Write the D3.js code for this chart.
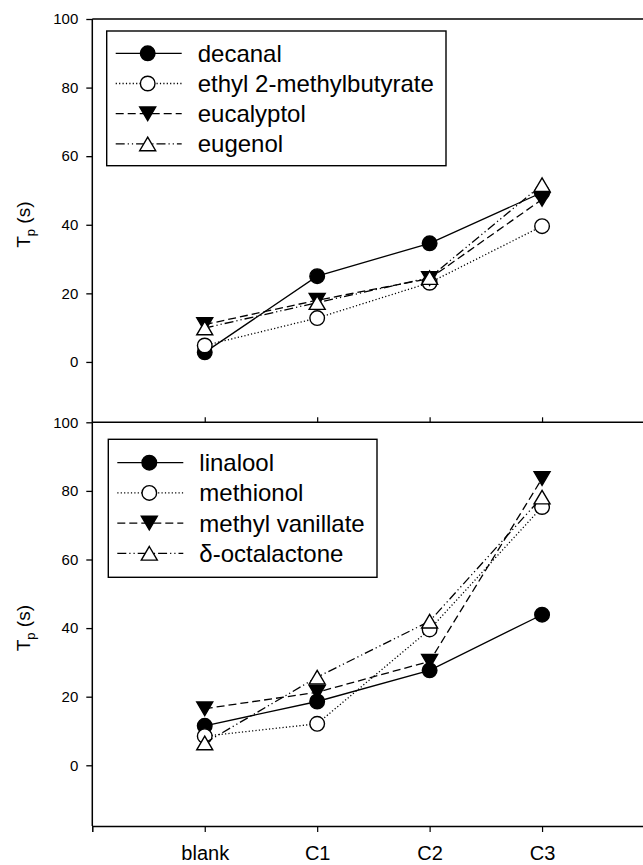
<!DOCTYPE html>
<html>
<head>
<meta charset="utf-8">
<script src="https://cdn.jsdelivr.net/npm/d3@7"></script>
<style>
  html, body { margin: 0; padding: 0; background: #fff; }
  svg { display: block; }
  text { font-family: "Liberation Sans", Arial, sans-serif; fill: #000; }
</style>
</head>
<body>
<svg id="chart" width="643" height="865"></svg>
<script>
// Categories along x
const categories = ["blank", "C1", "C2", "C3"];
const yTicks = [0, 20, 40, 60, 80, 100];

// Upper panel series (Tp in seconds)
const decanal = [2.8, 25.0, 34.6, 49.4];
const ethyl2Methylbutyrate = [4.8, 12.8, 23.1, 39.6];
const eucalyptol = [10.9, 18.0, 24.3, 47.4];
const eugenol = [9.9, 17.3, 24.6, 51.7];

// Lower panel series
const linalool = [11.5, 18.6, 27.7, 43.9];
const methionol = [8.5, 12.1, 39.6, 75.3];
const methylVanillate = [16.5, 21.3, 30.3, 83.6];
const octalactone = [6.5, 25.7, 42.0, 78.2];

const topNames = ["decanal", "ethyl 2-methylbutyrate", "eucalyptol", "eugenol"];
const bottomNames = ["linalool", "methionol", "methyl vanillate", "\u03B4-octalactone"];

// Line / symbol styles shared by both panels (by series position)
const styles = [
  { dash: null,            symbol: "circle",  fill: "#000" },
  { dash: "1.2,2.2",       symbol: "circle",  fill: "#fff" },
  { dash: "8,4",           symbol: "tridown", fill: "#000" },
  { dash: "9,3,1.2,3,1.2,3", symbol: "triup", fill: "#fff" }
];

const svg = d3.select("#chart");

const x = d3.scaleLinear().domain([0, 5]).range([92.3, 654.5]);

const panels = [
  { names: topNames, series: [decanal, ethyl2Methylbutyrate, eucalyptol, eugenol],
    y: d3.scaleLinear().domain([-17.6, 100]).range([422.3, 19]),
    legend: { x: 106.7, y: 31, w: 339.3, h: 134.7, rowY: 53.3 } },
  { names: bottomNames, series: [linalool, methionol, methylVanillate, octalactone],
    y: d3.scaleLinear().domain([-17.7, 100]).range([826, 422.3]),
    legend: { x: 108.3, y: 439.3, w: 268.7, h: 138, rowY: 462.7 } }
];

function drawSymbol(g, kind, fill, cx, cy) {
  if (kind === "circle") {
    g.append("circle").attr("cx", cx).attr("cy", cy).attr("r", 7.3)
      .attr("fill", fill).attr("stroke", "#000").attr("stroke-width", 1.4);
  } else {
    const hw = 8, hh = 6.8;
    const pts = kind === "triup"
      ? [[cx, cy - hh], [cx + hw, cy + hh], [cx - hw, cy + hh]]
      : [[cx - hw, cy - hh], [cx + hw, cy - hh], [cx, cy + hh]];
    g.append("path").attr("d", d3.line()(pts) + "Z")
      .attr("fill", fill).attr("stroke", "#000").attr("stroke-width", 1.4)
      .attr("stroke-linejoin", "miter");
  }
}

panels.forEach((p, pi) => {
  const g = svg.append("g");
  const y = p.y;
  const [y0, y1] = y.range();

  // Frame: left axis and top edge
  g.append("line").attr("x1", x(0)).attr("x2", x(0)).attr("y1", y1).attr("y2", y0)
    .attr("stroke", "#000").attr("stroke-width", 1.5);
  g.append("line").attr("x1", x(0)).attr("x2", x(5)).attr("y1", y1).attr("y2", y1)
    .attr("stroke", "#000").attr("stroke-width", 1.5);

  // Y axis
  const yAxis = d3.axisLeft(y).tickValues(yTicks).tickSize(6).tickPadding(8);
  const ya = g.append("g").attr("transform", `translate(${x(0)},0)`).call(yAxis);
  ya.select(".domain").remove();
  ya.selectAll(".tick line").attr("stroke", "#000").attr("stroke-width", 1.3);
  ya.selectAll(".tick text").style("font-size", "15px")
    .style("font-family", "'Liberation Sans', Arial, sans-serif");

  // Y title
  const cy = (y0 + y1) / 2;
  const t = g.append("text").attr("transform", `translate(30,${cy + 4}) rotate(-90)`)
    .attr("text-anchor", "middle").style("font-size", "19px");
  t.append("tspan").text("T");
  t.append("tspan").attr("dy", 5).style("font-size", "13px").text("p");
  t.append("tspan").attr("dy", -5).text(" (s)");

  // Category ticks (upper edge of the lower panel points up; bottom axis points down)
  if (pi === 1) {
    const topTicks = d3.axisTop(x).tickValues([1, 2, 3, 4]).tickSize(5).tickFormat("");
    const ta = g.append("g").attr("transform", `translate(0,${y1})`).call(topTicks);
    ta.select(".domain").remove();
    ta.selectAll(".tick line").attr("stroke", "#000").attr("stroke-width", 1.2);

    const xAxis = d3.axisBottom(x).tickValues([1, 2, 3, 4]).tickSize(6).tickPadding(14)
      .tickFormat(d => categories[d - 1]);
    const xa = g.append("g").attr("transform", `translate(0,${y0})`).call(xAxis);
    xa.select(".domain").attr("stroke", "#000").attr("stroke-width", 1.5);
    xa.selectAll(".tick line").attr("stroke", "#000").attr("stroke-width", 1.2);
    xa.selectAll(".tick text").style("font-size", "20px")
      .style("font-family", "'Liberation Sans', Arial, sans-serif");
  }

  // Series: line then symbols, in order
  const line = d3.line().x((d, i) => x(i + 1)).y(d => y(d));
  p.series.forEach((vals, si) => {
    const st = styles[si];
    const sg = g.append("g");
    sg.append("path").attr("d", line(vals)).attr("fill", "none")
      .attr("stroke", "#000").attr("stroke-width", 1.3)
      .attr("stroke-dasharray", st.dash);
    vals.forEach((v, i) => drawSymbol(sg, st.symbol, st.fill, x(i + 1), y(v)));
  });

  // Legend
  const L = p.legend;
  const lg = g.append("g");
  lg.append("rect").attr("x", L.x).attr("y", L.y).attr("width", L.w).attr("height", L.h)
    .attr("fill", "#fff").attr("stroke", "#000").attr("stroke-width", 1.4);
  p.names.forEach((name, si) => {
    const st = styles[si];
    const ry = L.rowY + si * 30.2;
    lg.append("line").attr("x1", L.x + 9).attr("x2", L.x + 75).attr("y1", ry).attr("y2", ry)
      .attr("stroke", "#000").attr("stroke-width", 1.3).attr("stroke-dasharray", st.dash);
    drawSymbol(lg, st.symbol, st.fill, L.x + 41, ry);
    lg.append("text").attr("x", L.x + 91).attr("y", ry + 8.5)
      .style("font-size", "24px").text(name);
  });
});
</script>
</body>
</html>
